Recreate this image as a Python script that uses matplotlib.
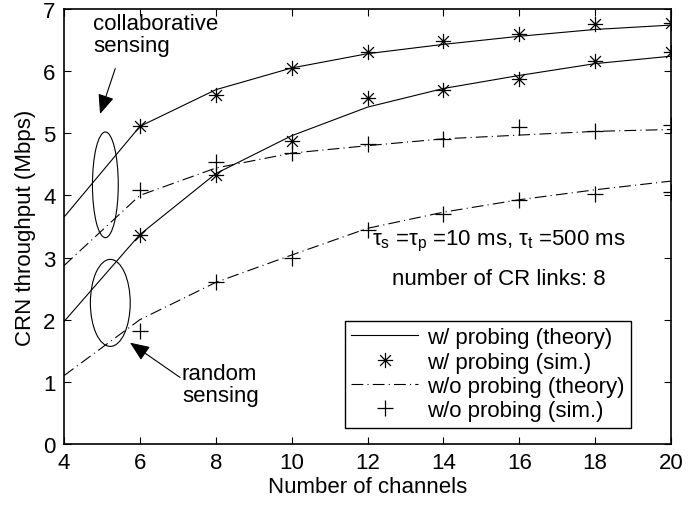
import matplotlib
matplotlib.use("Agg")
import matplotlib.pyplot as plt
from matplotlib.path import Path
from matplotlib.patches import Ellipse
from matplotlib.lines import Line2D

plt.rcParams['font.family'] = ['Liberation Sans', 'DejaVu Sans']
plt.rcParams['mathtext.fontset'] = 'custom'
plt.rcParams['mathtext.rm'] = 'Liberation Sans'
plt.rcParams['mathtext.it'] = 'Liberation Sans'
plt.rcParams['lines.scale_dashes'] = False

# number of channels
channels = [4, 6, 8, 10, 12, 14, 16, 18, 20]
channels_sim = [6, 8, 10, 12, 14, 16, 18, 20]

# collaborative sensing
collab_probe_theory = [3.65, 5.11, 5.70, 6.05, 6.28, 6.43, 6.56, 6.67, 6.74]
collab_probe_sim = [5.11, 5.61, 6.05, 6.31, 6.49, 6.60, 6.75, 6.78]
collab_noprobe_theory = [2.87, 4.00, 4.44, 4.68, 4.80, 4.91, 4.97, 5.03, 5.06]
collab_noprobe_sim = [4.08, 4.54, 4.69, 4.82, 4.91, 5.10, 5.03, 5.14]

# random sensing
random_probe_theory = [1.97, 3.37, 4.35, 4.96, 5.42, 5.72, 5.93, 6.12, 6.24]
random_probe_sim = [3.37, 4.33, 4.88, 5.57, 5.69, 5.87, 6.16, 6.30]
random_noprobe_theory = [1.10, 2.00, 2.60, 3.04, 3.47, 3.73, 3.93, 4.09, 4.23]
random_noprobe_sim = [1.81, 2.60, 2.99, 3.45, 3.70, 3.92, 4.03, 4.06]

# matlab style asterisk: + and x on top of each other
d = 0.7071
star = Path([(-1, 0), (1, 0), (0, -1), (0, 1), (-d, -d), (d, d), (-d, d), (d, -d)],
            [Path.MOVETO, Path.LINETO] * 4)
dashdot = (0, (8.5, 3.0, 0.8, 3.0))

fs = 16
lw = 0.8

fig = plt.figure(figsize=(6.89, 5.10), dpi=100)
ax = fig.add_axes([0.0929, 0.1275, 0.881, 0.853])

for theory, sim in [(collab_probe_theory, collab_probe_sim),
                    (random_probe_theory, random_probe_sim)]:
    ax.plot(channels, theory, color='k', lw=lw)
    ax.plot(channels_sim, sim, ls='none', marker=star, ms=11, mec='k', mfc='none', mew=0.9)

for theory, sim in [(collab_noprobe_theory, collab_noprobe_sim),
                    (random_noprobe_theory, random_noprobe_sim)]:
    ax.plot(channels, theory, color='k', lw=lw, ls=dashdot)
    ax.plot(channels_sim, sim, ls='none', marker='+', ms=12, mec='k', mew=0.9)

ax.set_xlim(4, 20)
ax.set_ylim(0, 7)
ax.set_xticks(range(4, 21, 2))
ax.set_yticks(range(0, 8))
ax.tick_params(direction='in', top=True, right=True, length=5, width=0.8,
               labelsize=fs, pad=6)
for s in ax.spines.values():
    s.set_linewidth(1.2)
ax.set_xlabel('Number of channels', fontsize=fs, labelpad=2)
ax.set_ylabel('CRN throughput (Mbps)', fontsize=fs, labelpad=5)

# ellipses around the two groups of curves
ax.add_patch(Ellipse((5.09, 4.17), 0.68, 1.70, fill=False, ec='k', lw=lw))
ax.add_patch(Ellipse((5.22, 2.27), 1.05, 1.40, fill=False, ec='k', lw=lw))

arrow = dict(arrowstyle='-|>,head_length=1.2,head_width=0.5', fc='k', ec='k', lw=lw,
             shrinkA=0, shrinkB=0)
ax.annotate('', xy=(4.95, 5.31), xytext=(5.35, 6.04), arrowprops=arrow)
ax.annotate('', xy=(5.74, 1.63), xytext=(7.06, 1.07), arrowprops=arrow)

ax.text(4.77, 6.93, 'collaborative\nsensing', fontsize=fs, va='top', ha='left',
        linespacing=1.05)
ax.text(7.11, 1.30, 'random\nsensing', fontsize=fs, va='top', ha='left',
        linespacing=1.05)

ax.text(15.45, 3.27, r'$\tau_s$ =$\tau_p$ =10 ms, $\tau_t$ =500 ms', fontsize=fs,
        ha='center', va='center')
ax.text(15.45, 2.67, 'number of CR links: 8', fontsize=fs, ha='center', va='center')

handles = [
    Line2D([], [], color='k', lw=lw),
    Line2D([], [], ls='none', marker=star, ms=11, mec='k', mfc='none', mew=0.9),
    Line2D([], [], color='k', lw=lw, ls=dashdot),
    Line2D([], [], ls='none', marker='+', ms=12, mec='k', mew=0.9),
]
labels = ['w/ probing (theory)', 'w/ probing (sim.)',
          'w/o probing (theory)', 'w/o probing (sim.)']
leg = ax.legend(handles, labels, loc='lower right', bbox_to_anchor=(0.934, 0.037),
                fontsize=fs, fancybox=False, framealpha=1, edgecolor='k',
                handlelength=3.0, handletextpad=0.4, labelspacing=0.15,
                borderpad=0.3, borderaxespad=0)
leg.get_frame().set_linewidth(1.0)

fig.savefig('out.png', dpi=100)
